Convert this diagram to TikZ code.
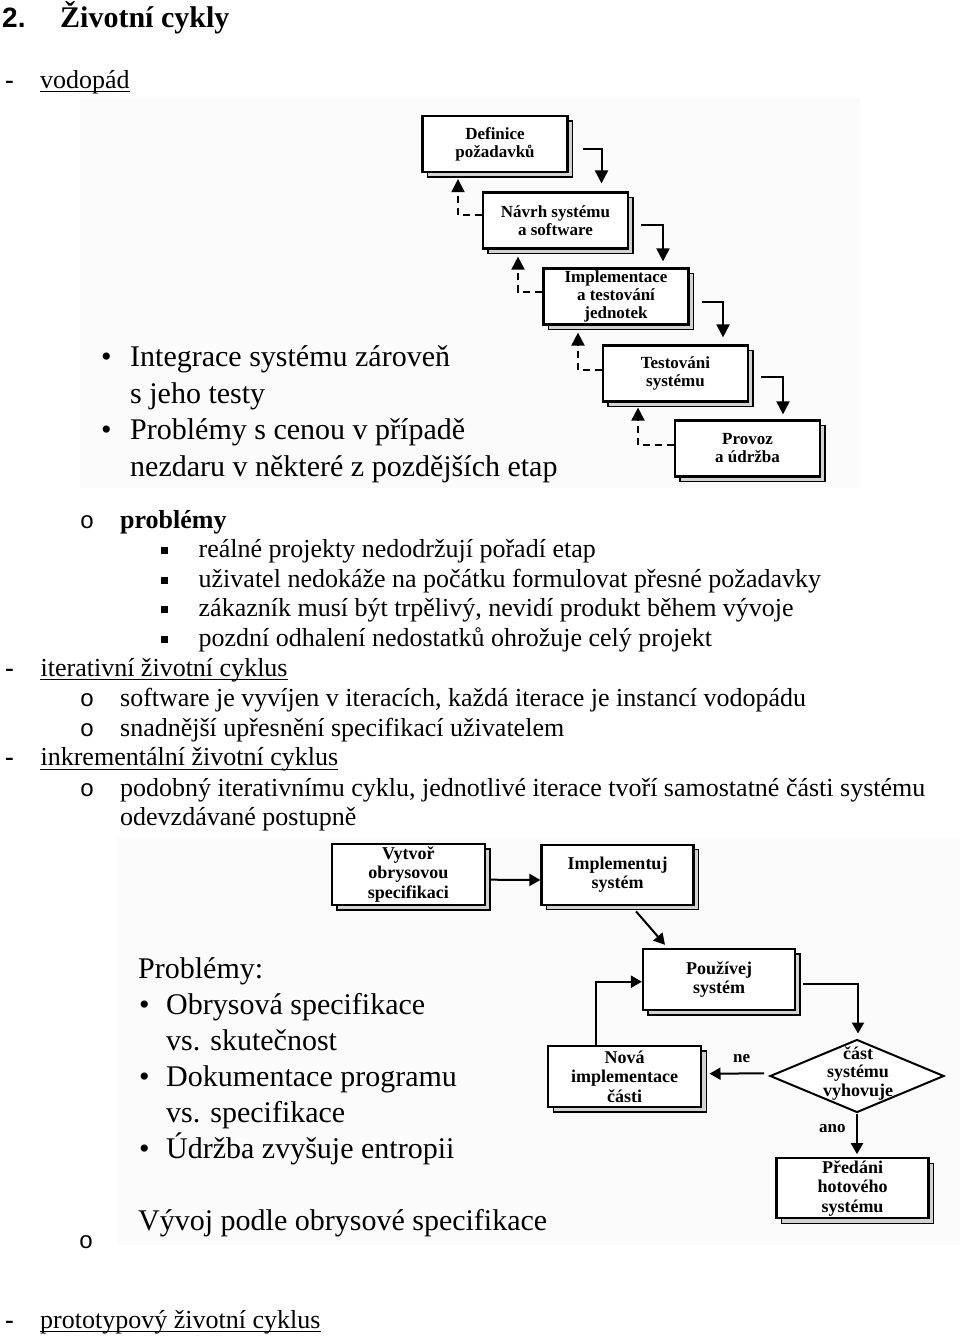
\documentclass[tikz,border=0pt]{standalone}
\usepackage{fontspec}
\setmainfont{Liberation Serif}
\newfontfamily\arialf{Liberation Sans}
\newfontfamily\courf{Liberation Mono}
\usetikzlibrary{calc,shapes.geometric,shadows,arrows.meta}
\begin{document}
\begin{tikzpicture}[x=1pt,y=1pt,
  body/.style={anchor=base west,inner sep=0pt,font=\fontsize{26}{30}\selectfont},
  slide/.style={anchor=base west,inner sep=0pt,font=\fontsize{30}{36}\selectfont},
  obull/.style={anchor=base,inner sep=0pt,font=\courf\fontsize{24}{30}\selectfont},
  sqb/.style={fill=black,minimum size=7pt,inner sep=0pt},
  uline/.style={line width=1.3pt},
  bgimg/.style={fill=gray!3},
  wbox/.style={draw,line width=2.2pt,fill=white,minimum width=145pt,minimum height=56pt,
     align=center,inner sep=0pt,font=\bfseries\fontsize{17}{18}\selectfont,
     copy shadow={shadow xshift=5pt,shadow yshift=-5pt,draw=black,fill=gray!35,line width=1.2pt}},
  ibox/.style={draw,line width=2.2pt,fill=white,minimum width=152pt,minimum height=60pt,
     align=center,inner sep=0pt,font=\bfseries\fontsize{18}{19.5}\selectfont,
     copy shadow={shadow xshift=5pt,shadow yshift=-5pt,draw=black,fill=gray!35,line width=1.2pt}},
  lbl/.style={inner sep=0pt,font=\bfseries\fontsize{17}{18}\selectfont},
  fwd/.style={line width=2pt,-{Triangle[length=13pt,width=13pt]}},
  back/.style={line width=2pt,dash pattern=on 7pt off 5pt,-{Triangle[length=13pt,width=13pt]}},
  arr/.style={line width=2pt,-{Triangle[length=11pt,width=12pt]}}
]
\useasboundingbox (0,0) rectangle (960,-1336);
\fill[white] (0,0) rectangle (960,-1336);

% ---------- heading ----------
\node[anchor=base west,inner sep=0pt,font=\arialf\bfseries\fontsize{28}{30}\selectfont] (num) at (2,-27) {2.};
\node[anchor=base west,inner sep=0pt,font=\bfseries\fontsize{30}{34}\selectfont] (title) at (60,-27) {Životní cykly};

\node[body,font=\bfseries\fontsize{26}{30}\selectfont] (d1) at (5,-88) {-};
\node[body] (vod) at (40,-88) {vodopád};
\draw[uline] ($(vod.base west)+(0,-3.5)$) -- ($(vod.base east)+(0,-3.5)$);

% ---------- waterfall picture ----------
\fill[bgimg] (80,-98) rectangle (860,-488);

\node[wbox] (b1) at (495,-144) {Definice\\požadavků};
\node[wbox] (b2) at (555.5,-220.5) {Návrh systému\\a software};
\node[wbox] (b3) at (616,-296.5) {Implementace\\a testování\\jednotek};
\node[wbox] (b4) at (675.5,-373.5) {Testováni\\systému};
\node[wbox] (b5) at (747.5,-448.5) {Provoz\\a údržba};

\draw[fwd] ($(b1.east)+(14,-5)$) -| ($(b2.north)+(46,8)$);
\draw[fwd] ($(b2.east)+(12,-4.5)$) -| ($(b3.north)+(47,6)$);
\draw[fwd] ($(b3.east)+(12,-5.5)$) -| ($(b4.north)+(47.5,7)$);
\draw[fwd] ($(b4.east)+(12,-3.5)$) -| ($(b5.north)+(35.5,5)$);

\draw[back] ($(b2.west)+(0,5.5)$) -| ($(b1.south)+(-37,-6)$);
\draw[back] ($(b3.west)+(0,4.5)$) -| ($(b2.south)+(-37.5,-7)$);
\draw[back] ($(b4.west)+(0,3.5)$) -| ($(b3.south)+(-38,-7)$);
\draw[back] ($(b5.west)+(0,3.5)$) -| ($(b4.south)+(-37.5,-5)$);

\node[slide] (wb1) at (101,-366) {•};
\node[slide] (wt1) at (130,-366) {Integrace systému zároveň};
\node[slide] (wt2) at (130,-403) {s jeho testy};
\node[slide] (wb2) at (101,-439.5) {•};
\node[slide] (wt3) at (130,-439.5) {Problémy s cenou v případě};
\node[slide] (wt4) at (130,-476) {nezdaru v některé z pozdějších etap};

% ---------- body text ----------
\node[obull] (o1) at (87,-528) {o};
\node[body,font=\bfseries\fontsize{26}{30}\selectfont] (prob) at (120,-528) {problémy};

\node[sqb] (s1) at (164.5,-550) {};
\node[body] (t1) at (198.5,-557.3) {reálné projekty nedodržují pořadí etap};
\node[sqb] (s2) at (164.5,-580) {};
\node[body] (t2) at (198.5,-587.3) {uživatel nedokáže na počátku formulovat přesné požadavky};
\node[sqb] (s3) at (164.5,-609.5) {};
\node[body] (t3) at (198.5,-616.7) {zákazník musí být trpělivý, nevidí produkt během vývoje};
\node[sqb] (s4) at (164.5,-639.5) {};
\node[body] (t4) at (198.5,-646.7) {pozdní odhalení nedostatků ohrožuje celý projekt};

\node[body,font=\bfseries\fontsize{26}{30}\selectfont] (d2) at (5,-676) {-};
\node[body] (itc) at (40.4,-676) {iterativní životní cyklus};
\draw[uline] ($(itc.base west)+(0,-3.5)$) -- ($(itc.base east)+(0,-3.5)$);
\node[obull] (o2) at (87,-706) {o};
\node[body] (t5) at (120,-706) {software je vyvíjen v iteracích, každá iterace je instancí vodopádu};
\node[obull] (o3) at (87,-736) {o};
\node[body] (t6) at (120,-736) {snadnější upřesnění specifikací uživatelem};

\node[body,font=\bfseries\fontsize{26}{30}\selectfont] (d3) at (5,-765.7) {-};
\node[body] (inc) at (40.4,-765.7) {inkrementální životní cyklus};
\draw[uline] ($(inc.base west)+(0,-3.5)$) -- ($(inc.base east)+(0,-3.5)$);
\node[obull] (o4) at (87,-796) {o};
\node[body] (t7) at (120,-796) {podobný iterativnímu cyklu, jednotlivé iterace tvoří samostatné části systému};
\node[body] (t8) at (120,-825) {odevzdávané postupně};

% ---------- incremental picture ----------
\fill[bgimg] (118,-838) rectangle (960,-1245);

\node[ibox,minimum width=153pt,minimum height=61pt] (v) at (408.4,-874.4) {Vytvoř\\obrysovou\\specifikaci};
\node[ibox] (im) at (617.5,-874.7) {Implementuj\\systém};
\node[ibox,minimum height=61pt] (p) at (719,-979.4) {Používej\\systém};
\node[ibox,minimum width=153pt,minimum height=61pt] (n) at (624.6,-1076.4) {Nová\\implementace\\části};
\node[ibox] (h) at (852.5,-1188.3) {Předáni\\hotového\\systému};
\node[draw,diamond,line width=2pt,fill=white,minimum width=174pt,minimum height=73pt,inner sep=0pt] (d) at (857,-1076) {};
\node[inner sep=0pt,align=center,font=\bfseries\fontsize{18}{18.5}\selectfont] (dt) at (858,-1073.5) {část\\systému\\vyhovuje};

\draw[arr] ($(v.east)+(5,-5.3)$) -- ($(im.west)+(0,-5.3)$);
\draw[arr] ($(im.south)+(18.5,-5.5)$) -- ($(p.north)+(-54,3)$);
\draw[arr] ($(p.east)+(6.7,-4.3)$) -| ($(d.north)+(1,5)$);
\draw[arr] ($(d.west)+(-5,2.7)$) -- ($(n.east)+(7.3,2.7)$);
\draw[arr] (d.south) -- ($(d.south |- h.north)+(0,3)$);
\draw[arr] ($(n.north)+(-29,0)$) |- ($(p.west)+(0,-2.3)$);

\node[lbl] (ne) at (741.7,-1058.3) {ne};
\node[lbl] (ano) at (832.3,-1128.3) {ano};

\node[slide] (pr) at (138,-978) {Problémy:};
\node[slide] (ib1) at (139,-1014) {•};
\node[slide] (it1) at (166,-1014) {Obrysová specifikace};
\node[slide] (it2) at (166,-1050) {vs. skutečnost};
\node[slide] (ib2) at (139,-1086.7) {•};
\node[slide] (it3) at (166,-1086.7) {Dokumentace programu};
\node[slide] (it4) at (166,-1122.7) {vs. specifikace};
\node[slide] (ib3) at (139,-1158.3) {•};
\node[slide] (it5) at (166,-1158.3) {Údržba zvyšuje entropii};
\node[slide] (vv) at (138,-1230) {Vývoj podle obrysové specifikace};

\node[obull] (o5) at (86,-1248) {o};

\node[body,font=\bfseries\fontsize{26}{30}\selectfont] (d4) at (5,-1328) {-};
\node[body] (pro) at (40,-1328) {prototypový životní cyklus};
\draw[uline] ($(pro.base west)+(0,-3.5)$) -- ($(pro.base east)+(0,-3.5)$);
\end{tikzpicture}
\end{document}
